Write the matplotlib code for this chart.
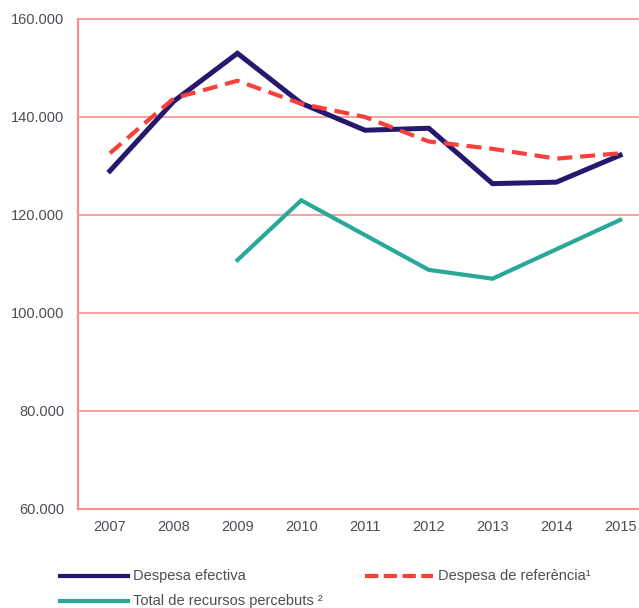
import numpy as np
import matplotlib.pyplot as plt
from matplotlib.lines import Line2D
from matplotlib.ticker import FuncFormatter

plt.rcParams['font.family'] = ['Liberation Sans', 'DejaVu Sans']

years = [2007, 2008, 2009, 2010, 2011, 2012, 2013, 2014, 2015]
despesa_efectiva = [129.0, 143.2, 153.0, 142.8, 137.3, 137.7, 126.4, 126.7, 132.2]
despesa_referencia = [132.6, 143.8, 147.4, 142.7, 140.0, 135.0, 133.5, 131.5, 132.6]
recursos_years = [2009, 2010, 2011, 2012, 2013, 2014, 2015]
recursos = [110.8, 123.0, 115.9, 108.8, 107.0, 113.0, 119.0]

navy = '#24196e'
red = '#f7413a'
teal = '#29a898'
grid_col = '#f4918d'
text_col = '#4a4f55'

fig = plt.figure(figsize=(6.39, 6.08), dpi=100)
ax = fig.add_axes([78 / 639, 99 / 608, 574 / 639, 490 / 608])

x = np.arange(len(years))
ax.plot(x, np.array(despesa_efectiva) * 1000, color=navy, lw=3.6,
        solid_joinstyle='miter', zorder=3)
ax.plot(x, np.array(despesa_referencia) * 1000, color=red, lw=3.0,
        linestyle=(0, (3.6, 1.9)), zorder=4)
xr = [years.index(y) for y in recursos_years]
ax.plot(xr, np.array(recursos) * 1000, color=teal, lw=3.0,
        solid_joinstyle='miter', zorder=3)

ax.set_xlim(-0.5, len(years) - 0.5)
ax.set_ylim(60000, 160000)
ax.set_yticks(np.arange(60000, 160001, 20000))
ax.yaxis.set_major_formatter(FuncFormatter(lambda v, p: f'{int(v):,}'.replace(',', '.')))
ax.set_xticks(x)
ax.set_xticklabels([str(y) for y in years])
ax.grid(axis='y', color=grid_col, lw=1.2)
ax.set_axisbelow(True)
ax.spines['right'].set_visible(False)
ax.spines['top'].set_color(grid_col)
ax.spines['top'].set_linewidth(1.2)
for s in ['left', 'bottom']:
    ax.spines[s].set_color(grid_col)
    ax.spines[s].set_linewidth(1.6)
ax.tick_params(length=0, labelsize=10.5, labelcolor=text_col)
ax.tick_params(axis='y', pad=10)
ax.tick_params(axis='x', pad=8)

# legend drawn by hand
W, H = 639, 608
def legend_item(x0, y0, text, **kw):
    fig.add_artist(Line2D([x0 / W, (x0 + 68) / W], [1 - y0 / H, 1 - y0 / H],
                          transform=fig.transFigure, **kw))
    fig.text((x0 + 73) / W, 1 - y0 / H, text, fontsize=10.5, color=text_col,
             va='center', ha='left')

legend_item(60, 576, 'Despesa efectiva', color=navy, lw=3.0)
legend_item(365, 576, 'Despesa de referència¹', color=red, lw=3.0,
            linestyle=(0, (3.2, 1.3)))
legend_item(60, 601, 'Total de recursos percebuts ²', color=teal, lw=3.0)

fig.savefig('out.png', dpi=100)
